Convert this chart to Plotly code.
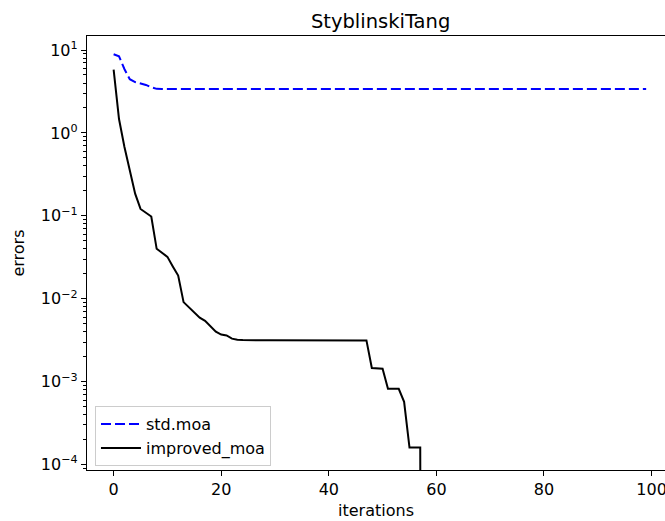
import plotly.graph_objects as go

# ---- data ----
iterations = list(range(100))

std_moa = [
    8.9, 8.4, 5.9, 4.45, 4.1, 3.94, 3.79, 3.55, 3.40, 3.39,
    3.39, 3.39, 3.39, 3.39, 3.39, 3.39, 3.39, 3.39, 3.39, 3.39,
    3.39, 3.39, 3.39, 3.39, 3.39, 3.39, 3.39, 3.39, 3.39, 3.39,
    3.39, 3.39, 3.39, 3.39, 3.39, 3.39, 3.39, 3.39, 3.39, 3.39,
    3.39, 3.39, 3.39, 3.39, 3.39, 3.39, 3.39, 3.39, 3.39, 3.39,
    3.39, 3.39, 3.39, 3.39, 3.39, 3.39, 3.39, 3.39, 3.39, 3.39,
    3.39, 3.39, 3.39, 3.39, 3.39, 3.39, 3.39, 3.39, 3.39, 3.39,
    3.39, 3.39, 3.39, 3.39, 3.39, 3.39, 3.39, 3.39, 3.39, 3.39,
    3.39, 3.39, 3.39, 3.39, 3.39, 3.39, 3.39, 3.39, 3.39, 3.39,
    3.39, 3.39, 3.39, 3.39, 3.39, 3.39, 3.39, 3.39, 3.39, 3.39,
]

improved_moa = [
    5.8, 1.47, 0.68, 0.37, 0.185, 0.121, 0.11, 0.098, 0.040, 0.036,
    0.032, 0.0245, 0.019, 0.0091, 0.0078, 0.0068, 0.0059, 0.0054, 0.0047, 0.0040,
    0.0037, 0.0036, 0.0033, 0.0032, 0.00318, 0.00316, 0.00315, 0.00315, 0.00315, 0.00315,
    0.00315, 0.00315, 0.00315, 0.00315, 0.00315, 0.00315, 0.00315, 0.00315, 0.00315, 0.00315,
    0.00315, 0.00315, 0.00315, 0.00315, 0.00315, 0.00315, 0.00315, 0.00314, 0.00146, 0.00143,
    0.00143, 0.00082, 0.00082, 0.00082, 0.00057, 0.00016, 0.00016, 0.00016, 0.0, 0.0,
    0.0, 0.0, 0.0, 0.0, 0.0, 0.0, 0.0, 0.0, 0.0, 0.0,
    0.0, 0.0, 0.0, 0.0, 0.0, 0.0, 0.0, 0.0, 0.0, 0.0,
    0.0, 0.0, 0.0, 0.0, 0.0, 0.0, 0.0, 0.0, 0.0, 0.0,
    0.0, 0.0, 0.0, 0.0, 0.0, 0.0, 0.0, 0.0, 0.0, 0.0,
]

x_ticks = [0, 20, 40, 60, 80, 100]
y_tick_exps = [-4, -3, -2, -1, 0, 1]

# log scale cannot show zero: clip non-positive values like matplotlib does
CLIP = 1e-30
improved_plot = [v if v > 0 else CLIP for v in improved_moa]

y_tickvals = [10.0 ** e for e in y_tick_exps]
y_ticktext = ["10<sup>%s</sup>" % (str(e).replace("-", "\u2212")) for e in y_tick_exps]
y_minor = [m * 10.0 ** e for e in range(-5, 2) for m in range(2, 10)]

FONT = "DejaVu Sans"

fig = go.Figure()
fig.add_trace(go.Scatter(
    x=iterations, y=std_moa, mode="lines", name="std.moa",
    line=dict(color="#0000ff", width=2, dash="10px,4px"),
))
fig.add_trace(go.Scatter(
    x=iterations, y=improved_plot, mode="lines", name="improved_moa",
    line=dict(color="black", width=2),
))

fig.update_layout(
    width=665, height=521,
    margin=dict(l=87, r=0, t=36, b=51, pad=0),
    paper_bgcolor="white", plot_bgcolor="white",
    font=dict(family=FONT, size=16, color="black"),
    title=dict(text="StyblinskiTang", x=0.508, xref="paper", xanchor="center",
               y=1 - 21 / 521, yref="container", yanchor="middle",
               font=dict(family=FONT, size=19.5, color="black")),
    legend=dict(x=0.0138, y=0.147, xanchor="left", yanchor="top",
                bgcolor="rgba(255,255,255,0.8)", bordercolor="#cccccc", borderwidth=1,
                font=dict(family=FONT, size=16, color="black"),
                tracegroupgap=0, itemwidth=40),
    showlegend=True,
)

fig.update_xaxes(
    range=[-4.95, 102.5], tickmode="array", tickvals=x_ticks,
    showline=True, linecolor="black", linewidth=1.3, mirror=True,
    ticks="outside", ticklen=5, tickwidth=1.3, tickcolor="black",
    ticklabeloverflow="allow",
    showgrid=False, zeroline=False, automargin=False,
    title=dict(text="iterations", standoff=6, font=dict(family=FONT, size=16)),
)
fig.update_yaxes(
    type="log", range=[-4.066, 1.169], tickmode="array",
    tickvals=y_tickvals, ticktext=y_ticktext,
    showline=True, linecolor="black", linewidth=1.3, mirror=False,
    ticks="outside", ticklen=5, tickwidth=1.3, tickcolor="black",
    minor=dict(tickmode="array", tickvals=y_minor, ticks="outside", ticklen=2.5,
               tickwidth=1, tickcolor="black", showgrid=False),
    showgrid=False, zeroline=False, automargin=False,
    title=dict(text="errors", standoff=12, font=dict(family=FONT, size=16)),
)

fig.write_html("out.html")
